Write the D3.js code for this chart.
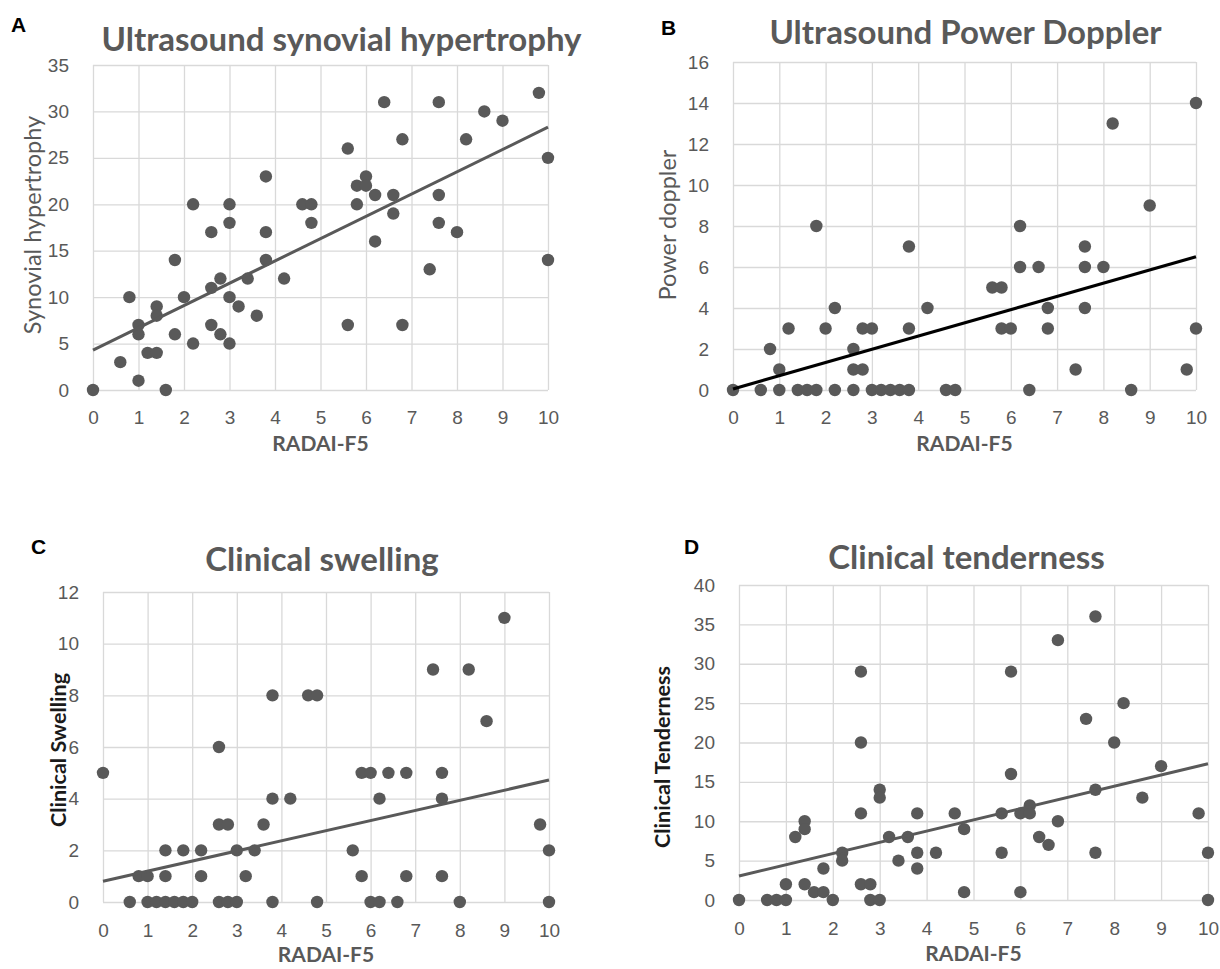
<!DOCTYPE html>
<html>
<head>
<meta charset="utf-8">
<script src="https://cdn.jsdelivr.net/npm/d3@7"></script>
<style>
  body { margin: 0; background: #fff; }
  svg { display: block; font-family: Lato, "Open Sans", sans-serif; }
  .grid line { stroke: #d9d9d9; stroke-width: 1.3; }
  .grid text { fill: #595959; font-size: 19px; }
</style>
</head>
<body>
<svg class="chart"></svg>
<script>
// RADAI-F5 scores and outcomes
const xTicks = d3.range(0, 11);

const synovialX = [0,0.6,0.8,1,1,1,1.2,1.4,1.4,1.4,1.6,1.8,1.8,2,2.2,2.2,2.6,2.6,2.6,2.8,2.8,3,3,3,3,3.2,3.4,3.6,3.8,3.8,3.8,4.2,4.6,4.8,4.8,5.6,5.6,5.8,5.8,6,6,6.2,6.2,6.4,6.6,6.6,6.8,6.8,7.4,7.6,7.6,7.6,8,8.2,8.6,9,9.8,10,10];
const synovialY = [0,3,10,1,7,6,4,4,9,8,0,14,6,10,20,5,17,11,7,12,6,20,18,10,5,9,12,8,23,17,14,12,20,20,18,26,7,22,20,23,22,21,16,31,21,19,27,7,13,31,21,18,17,27,30,29,32,25,14];
const synovialTicks = d3.range(0, 36, 5);
const synovialTrend = [4.3, 28.3]; // trendline value at x=0 and x=10

const dopplerX = [0,0.6,0.8,1,1,1.2,1.4,1.6,1.8,1.8,2,2.2,2.2,2.6,2.6,2.6,2.8,2.8,3,3,3.2,3.4,3.6,3.8,3.8,3.8,4.2,4.6,4.8,5.6,5.8,5.8,6,6.2,6.2,6.4,6.6,6.8,6.8,7.4,7.6,7.6,7.6,8,8.2,8.6,9,9.8,10,10];
const dopplerY = [0,0,2,1,0,3,0,0,0,8,3,4,0,2,1,0,1,3,3,0,0,0,0,0,3,7,4,0,0,5,5,3,3,8,6,0,6,4,3,1,7,6,4,6,13,0,9,1,14,3];
const dopplerTicks = d3.range(0, 17, 2);
const dopplerTrend = [0.05, 6.5];

const swellingX = [0,0.6,0.8,1,1,1.2,1.4,1.6,1.8,2,1.4,1.4,1.8,2.2,2.2,2.6,2.6,2.8,2.6,2.8,3,3,3.2,3.4,3.6,3.8,3.8,3.8,4.2,4.6,4.8,4.8,5.6,5.8,5.8,6,6,6.2,6.2,6.4,6.6,6.8,6.8,7.4,7.6,7.6,7.6,8,8.2,8.6,9,9.8,10,10];
const swellingY = [5,0,1,1,0,0,0,0,0,0,2,1,2,2,1,6,3,3,0,0,0,2,1,2,3,8,4,0,4,8,8,0,2,5,1,5,0,4,0,5,0,5,1,9,5,4,1,0,9,7,11,3,2,0];
const swellingTicks = d3.range(0, 13, 2);
const swellingTrend = [0.8, 4.72];

const tenderX = [0,0.6,0.8,1,1,1.2,1.4,1.4,1.4,1.6,1.8,1.8,2,2.2,2.2,2.6,2.6,2.6,2.6,2.8,2.8,3,3,3,3.2,3.4,3.6,3.8,3.8,3.8,4.2,4.6,4.8,4.8,5.6,5.6,5.8,5.8,6,6,6.2,6.2,6.4,6.6,6.8,6.8,7.4,7.6,7.6,7.6,8,8.2,8.6,9,9.8,10,10];
const tenderY = [0,0,0,0,2,8,10,9,2,1,1,4,0,6,5,29,20,11,2,2,0,0,14,13,8,5,8,11,6,4,6,11,9,1,11,6,29,16,11,1,12,11,8,7,33,10,23,36,14,6,20,25,13,17,11,6,0];
const tenderTicks = d3.range(0, 41, 5);
const tenderTrend = [3.05, 17.3];

const svg = d3.select('.chart')
  .attr('width', 1220)
  .attr('height', 969);

function drawPanel(p) {
  const x = d3.scaleLinear().domain([0, 10]).range([p.left, p.right]);
  const y = d3.scaleLinear().domain([0, d3.max(p.yTicks)]).range([p.bottom, p.top]);
  const g = svg.append('g');

  g.append('g')
    .attr('class', 'grid')
    .attr('transform', `translate(0,${p.bottom})`)
    .call(d3.axisBottom(x).tickValues(xTicks).tickSize(-(p.bottom - p.top)).tickPadding(p.xPad))
    .call(a => a.select('.domain').remove());

  g.append('g')
    .attr('class', 'grid')
    .attr('transform', `translate(${p.left},0)`)
    .call(d3.axisLeft(y).tickValues(p.yTicks).tickSize(-(p.right - p.left)).tickPadding(24))
    .call(a => a.select('.domain').remove());

  g.selectAll('circle.pt')
    .data(p.xs.map((v, i) => [v, p.ys[i]]))
    .enter().append('circle')
    .attr('class', 'pt')
    .attr('cx', d => x(d[0]))
    .attr('cy', d => y(d[1]))
    .attr('r', 6.2)
    .attr('fill', '#595959');

  g.append('line')
    .attr('x1', x(0)).attr('y1', y(p.trend[0]))
    .attr('x2', x(10)).attr('y2', y(p.trend[1]))
    .attr('stroke', p.trendColor)
    .attr('stroke-width', p.trendWidth);

  g.append('text')
    .attr('x', p.letterX).attr('y', p.letterY)
    .attr('font-family', 'Liberation Sans, Arial, sans-serif')
    .attr('font-weight', 'bold').attr('font-size', 21)
    .attr('fill', '#000')
    .text(p.letter);

  g.append('text')
    .attr('x', (p.left + p.right) / 2 + p.titleShift).attr('y', p.titleY)
    .attr('text-anchor', 'middle')
    .attr('font-weight', 'bold').attr('font-size', 33)
    .attr('fill', '#595959')
    .text(p.title);

  g.append('text')
    .attr('x', (p.left + p.right) / 2).attr('y', p.xTitleY)
    .attr('text-anchor', 'middle')
    .attr('font-weight', 'bold').attr('font-size', 21)
    .attr('fill', '#595959')
    .text('RADAI-F5');

  g.append('text')
    .attr('transform', `translate(${p.yTitleX},${p.yTitleY}) rotate(-90)`)
    .attr('text-anchor', 'middle')
    .attr('dy', '0.35em')
    .attr('font-weight', p.yTitleBold ? 'bold' : 'normal')
    .attr('font-size', p.yTitleSize)
    .attr('fill', p.yTitleBold ? '#1a1a1a' : '#595959')
    .text(p.yTitle);
}

drawPanel({
  xs: synovialX, ys: synovialY, yTicks: synovialTicks, trend: synovialTrend,
  left: 93, right: 548, top: 65, bottom: 390, xPad: 21,
  trendColor: '#595959', trendWidth: 3,
  letter: 'A', letterX: 11, letterY: 32,
  title: 'Ultrasound synovial hypertrophy', titleY: 51, titleShift: 21,
  xTitleY: 451, yTitle: 'Synovial hypertrophy', yTitleX: 33, yTitleY: 225, yTitleSize: 23.5
});

drawPanel({
  xs: dopplerX, ys: dopplerY, yTicks: dopplerTicks, trend: dopplerTrend,
  left: 733, right: 1196, top: 62, bottom: 390, xPad: 21,
  trendColor: '#000', trendWidth: 3.2,
  letter: 'B', letterX: 661, letterY: 35,
  title: 'Ultrasound Power Doppler', titleY: 44, titleShift: 1,
  xTitleY: 451, yTitle: 'Power doppler', yTitleX: 668, yTitleY: 225, yTitleSize: 23.5
});

drawPanel({
  xs: swellingX, ys: swellingY, yTicks: swellingTicks, trend: swellingTrend,
  left: 103, right: 549, top: 592, bottom: 902, xPad: 22,
  trendColor: '#595959', trendWidth: 3,
  letter: 'C', letterX: 31, letterY: 554,
  title: 'Clinical swelling', titleY: 571, titleShift: -4,
  xTitleY: 962, yTitle: 'Clinical Swelling', yTitleX: 58, yTitleY: 750, yTitleSize: 21.5, yTitleBold: true
});

drawPanel({
  xs: tenderX, ys: tenderY, yTicks: tenderTicks, trend: tenderTrend,
  left: 739, right: 1208, top: 585, bottom: 900, xPad: 22,
  trendColor: '#595959', trendWidth: 3,
  letter: 'D', letterX: 684, letterY: 554,
  title: 'Clinical tenderness', titleY: 569, titleShift: -7,
  xTitleY: 961, yTitle: 'Clinical Tenderness', yTitleX: 662, yTitleY: 757, yTitleSize: 21.5, yTitleBold: true
});
</script>
</body>
</html>
